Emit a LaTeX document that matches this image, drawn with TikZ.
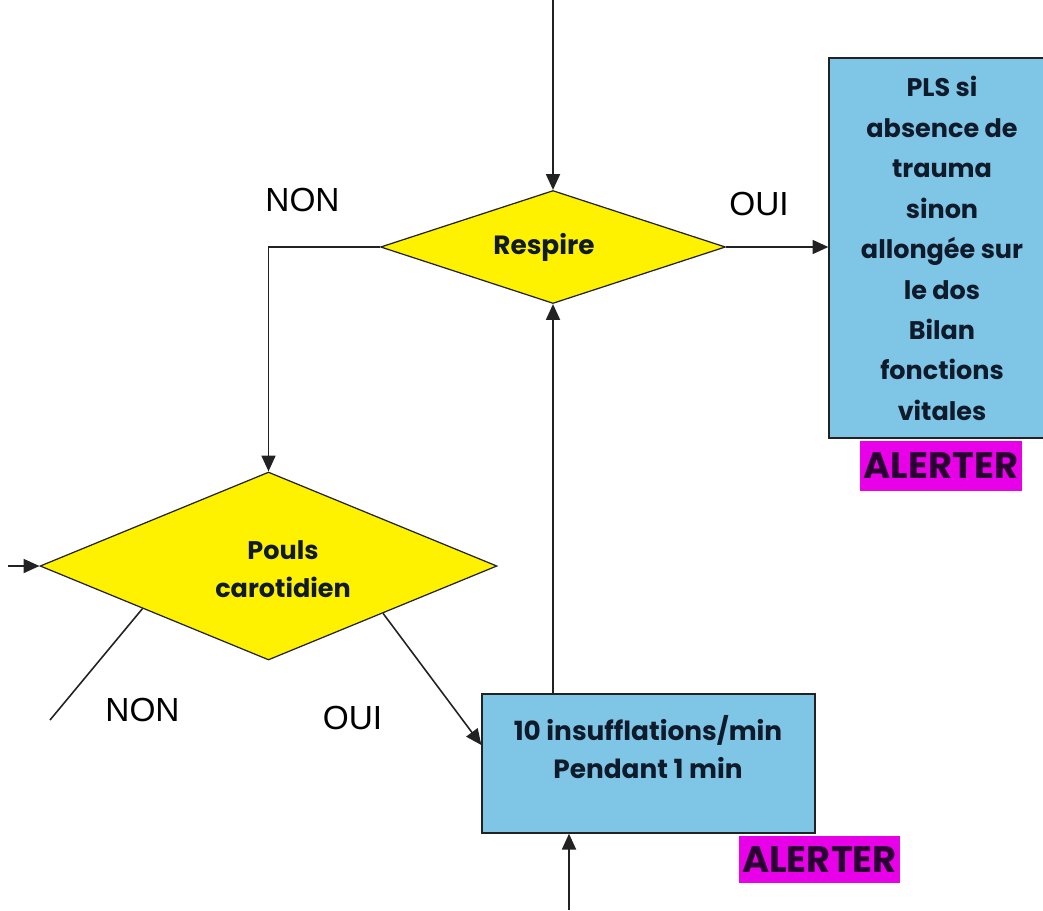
\documentclass[tikz,border=0pt]{standalone}
\usepackage{fontspec}
\setmainfont{Liberation Sans}
\newfontfamily\boxfont{Poppins}
\usetikzlibrary{shapes.geometric,arrows.meta,calc}
\definecolor{skyfill}{HTML}{7FC6E6}
\definecolor{alertfill}{HTML}{E800E8}
\definecolor{alerttext}{HTML}{2A0033}
\definecolor{boxtext}{HTML}{0F1A2A}
\definecolor{wire}{HTML}{222222}
\tikzset{
  wireline/.style={draw=wire, line width=0.9pt},
  flowarrow/.style={wireline, -{Triangle[length=9pt,width=8pt]}},
  decision/.style={shape=diamond, draw=wire, line width=0.7pt, fill=yellow, inner sep=0pt},
  actionbox/.style={shape=rectangle, draw=wire, line width=0.8pt, fill=skyfill, inner sep=0pt},
  boxlabel/.style={text=boxtext, align=center, inner sep=0pt,
    font=\boxfont\bfseries\fontsize{14.5}{23}\selectfont},
  alertlabel/.style={fill=alertfill, text=alerttext, inner sep=0pt,
    font=\boxfont\bfseries\fontsize{21}{24}\selectfont},
  answer/.style={text=black, inner sep=0pt, font=\fontsize{19}{22}\selectfont},
}
\begin{document}
\begin{tikzpicture}[x=0.02cm, y=-0.02cm]
  \useasboundingbox (0,0) rectangle (1043,910);
  \clip (0,0) rectangle (1043,910);

  % decisions
  \node[decision, minimum width=6.9cm, minimum height=2.26cm] (resp) at (553,247) {};
  \node[boxlabel, font=\boxfont\bfseries\fontsize{15}{21}\selectfont] (resptext) at (544,247) {Respire};
  \node[decision, minimum width=9.14cm, minimum height=3.76cm] (pouls) at (268.5,566) {};
  \node[boxlabel, font=\boxfont\bfseries\fontsize{14.5}{21.5}\selectfont] (poulstext) at (283,569) {Pouls\\carotidien};

  % actions
  \node[actionbox, minimum width=4.52cm, minimum height=7.6cm] (pls) at (942,248) {};
  \node[boxlabel] (plstext) at (942,248.5)
    {PLS si\\absence de\\trauma\\sinon\\allongée sur\\le dos\\Bilan\\fonctions\\vitales};
  \node[actionbox, minimum width=6.66cm, minimum height=2.78cm] (insuf) at (648.5,763.5) {};
  \node[boxlabel, font=\boxfont\bfseries\fontsize{15}{21.6}\selectfont] (insuftext) at (648,747)
    {10 insufflations/min\\Pendant 1 min};

  % alert tags
  \node[alertlabel, minimum width=3.24cm, minimum height=1.0cm] (alert1) at (941,466) {ALERTER};
  \node[alertlabel, minimum width=3.22cm, minimum height=0.94cm] (alert2) at (819.5,859.5) {ALERTER};

  % answers
  \node[answer] (nonA) at (302.5,200) {NON};
  \node[answer] (ouiA) at (759,204.5) {OUI};
  \node[answer] (nonB) at (142.5,710) {NON};
  \node[answer] (ouiB) at (352.5,717.5) {OUI};

  % free ends
  \coordinate (topin) at (553,0);
  \coordinate (leftin) at (8,566);
  \coordinate (nonend) at (50,720);
  \coordinate (botin) at (569,910);

  % connectors
  \draw[flowarrow] (topin) -- (resp.north);
  \draw[flowarrow] (resp.east) -- (resp.east -| pls.west);
  \draw[flowarrow] (resp.west) -| (pouls.north);
  \draw[flowarrow] (leftin) -- (pouls.west);
  \draw[wireline] ($(pouls.west)!0.45!(pouls.south)$) -- (nonend);
  \draw[flowarrow] ($(pouls.east)!0.5!(pouls.south)$) -- ($(insuf.west)+(0,-18.5)$);
  \draw[flowarrow] (resp.south |- insuf.north) -- (resp.south);
  \draw[flowarrow] (botin) -- (botin |- insuf.south);
\end{tikzpicture}
\end{document}
